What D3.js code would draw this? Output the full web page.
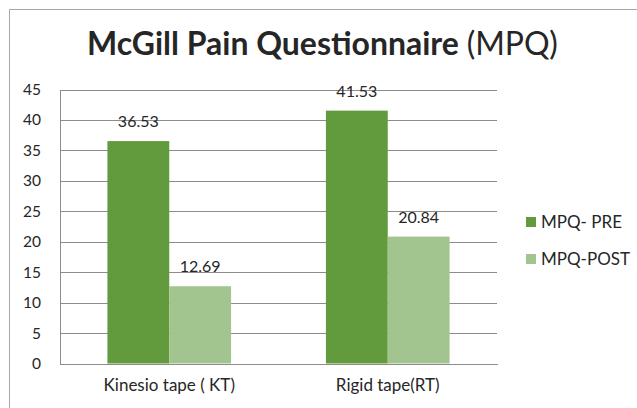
<!DOCTYPE html>
<html>
<head>
<meta charset="utf-8">
<script src="https://cdn.jsdelivr.net/npm/d3@7"></script>
<style>
  body { margin: 0; background: white; }
  text { font-family: Lato, "Open Sans", sans-serif; fill: #262626; }
</style>
</head>
<body>
<svg id="chart" width="637" height="408"></svg>
<script>
// Datos
const categories = ['Kinesio tape ( KT)', 'Rigid tape(RT)']
const series = ['MPQ- PRE', 'MPQ-POST']
const preValues = [36.53, 41.53]
const postValues = [12.69, 20.84]
const yTicks = [0, 5, 10, 15, 20, 25, 30, 35, 40, 45]

const colors = ['#629a3e', '#a2c58f']

const svg = d3.select('#chart')
const width = +svg.attr('width')
const height = +svg.attr('height')

svg.append('rect')
    .attr('width', width).attr('height', height).attr('fill', 'white')

// marco del grafico (solo se ven el borde superior y el izquierdo)
svg.append('path')
    .attr('d', `M9.5,${height} V9.5 H${width}`)
    .attr('fill', 'none')
    .attr('stroke', '#a6a6a6')
    .attr('stroke-width', 1)

// Titulo
const title = svg.append('text')
    .attr('x', 87)
    .attr('y', 55)
    .style('font-size', '28px')
title.append('tspan').attr('font-weight', 'bold').text('McGill Pain Questionnaire ')
title.append('tspan').attr('font-weight', 'normal').text('(MPQ)')
// ajustar al ancho del original
const tw = title.node().getComputedTextLength()
title.style('font-size', (28 * 471 / tw) + 'px')

const margin = { top: 89.5, left: 60, right: 140, bottom: 44.5 }
const innerWidth = width - margin.left - margin.right
const innerHeight = height - margin.top - margin.bottom

const g = svg.append('g')
    .attr('transform', `translate(${margin.left}, ${margin.top})`)

const yScale = d3.scaleLinear()
    .domain([0, 45])
    .range([innerHeight, 0])

const xScale = d3.scaleBand()
    .domain(categories)
    .range([0, innerWidth])
    .paddingInner(0.434)
    .paddingOuter(0.217)

const xSub = d3.scaleBand()
    .domain(series)
    .range([0, xScale.bandwidth()])

// lineas de la grilla + etiquetas del eje y
const yAxis = d3.axisLeft(yScale)
    .tickValues(yTicks)
    .tickSize(-innerWidth)
    .tickPadding(19)

const yAxisGroup = g.append('g').call(yAxis)
yAxisGroup.select('.domain').remove()
yAxisGroup.selectAll('.tick line')
    .attr('stroke', '#8c8c8c')
    .attr('shape-rendering', 'crispEdges')
yAxisGroup.selectAll('.tick text')
    .style('font-size', '15.5px')
    .attr('fill', '#262626')

// linea vertical del eje y
g.append('line')
    .attr('x1', 0).attr('x2', 0)
    .attr('y1', 0).attr('y2', innerHeight)
    .attr('stroke', '#8c8c8c')
    .attr('shape-rendering', 'crispEdges')

const data = categories.map((c, i) => ({
    cat: c,
    values: [
        { key: series[0], value: preValues[i] },
        { key: series[1], value: postValues[i] }
    ]
}))

const groups = g.selectAll('.grupo').data(data)
    .enter().append('g')
        .attr('class', 'grupo')
        .attr('transform', d => `translate(${xScale(d.cat)}, 0)`)

groups.selectAll('rect').data(d => d.values)
    .enter().append('rect')
        .attr('x', d => xSub(d.key))
        .attr('y', d => yScale(d.value))
        .attr('width', xSub.bandwidth())
        .attr('height', d => innerHeight - yScale(d.value))
        .attr('fill', (d, i) => colors[i])

groups.selectAll('.valor').data(d => d.values)
    .enter().append('text')
        .attr('class', 'valor')
        .attr('x', d => xSub(d.key) + xSub.bandwidth() / 2)
        .attr('y', d => yScale(d.value) - 14)
        .attr('text-anchor', 'middle')
        .style('font-size', '16px')
        .text(d => d.value.toFixed(2))

// eje x (linea base y categorias)
const xAxisGroup = g.append('g')
    .attr('transform', `translate(0, ${innerHeight})`)
    .call(d3.axisBottom(xScale).tickSize(0).tickPadding(15))
xAxisGroup.select('.domain')
    .attr('stroke', '#8c8c8c')
    .attr('shape-rendering', 'crispEdges')
xAxisGroup.selectAll('.tick text')
    .style('font-size', '17px')
    .attr('fill', '#262626')

// Leyenda
const legend = svg.append('g')
    .attr('transform', 'translate(526, 217)')

const legendItems = legend.selectAll('g').data(series)
    .enter().append('g')
        .attr('transform', (d, i) => `translate(0, ${i * 37})`)

legendItems.append('rect')
    .attr('width', 10).attr('height', 10)
    .attr('fill', (d, i) => colors[i])

legendItems.append('text')
    .attr('x', 15)
    .attr('y', 11)
    .style('font-size', '17px')
    .text(d => d)
</script>
</body>
</html>
